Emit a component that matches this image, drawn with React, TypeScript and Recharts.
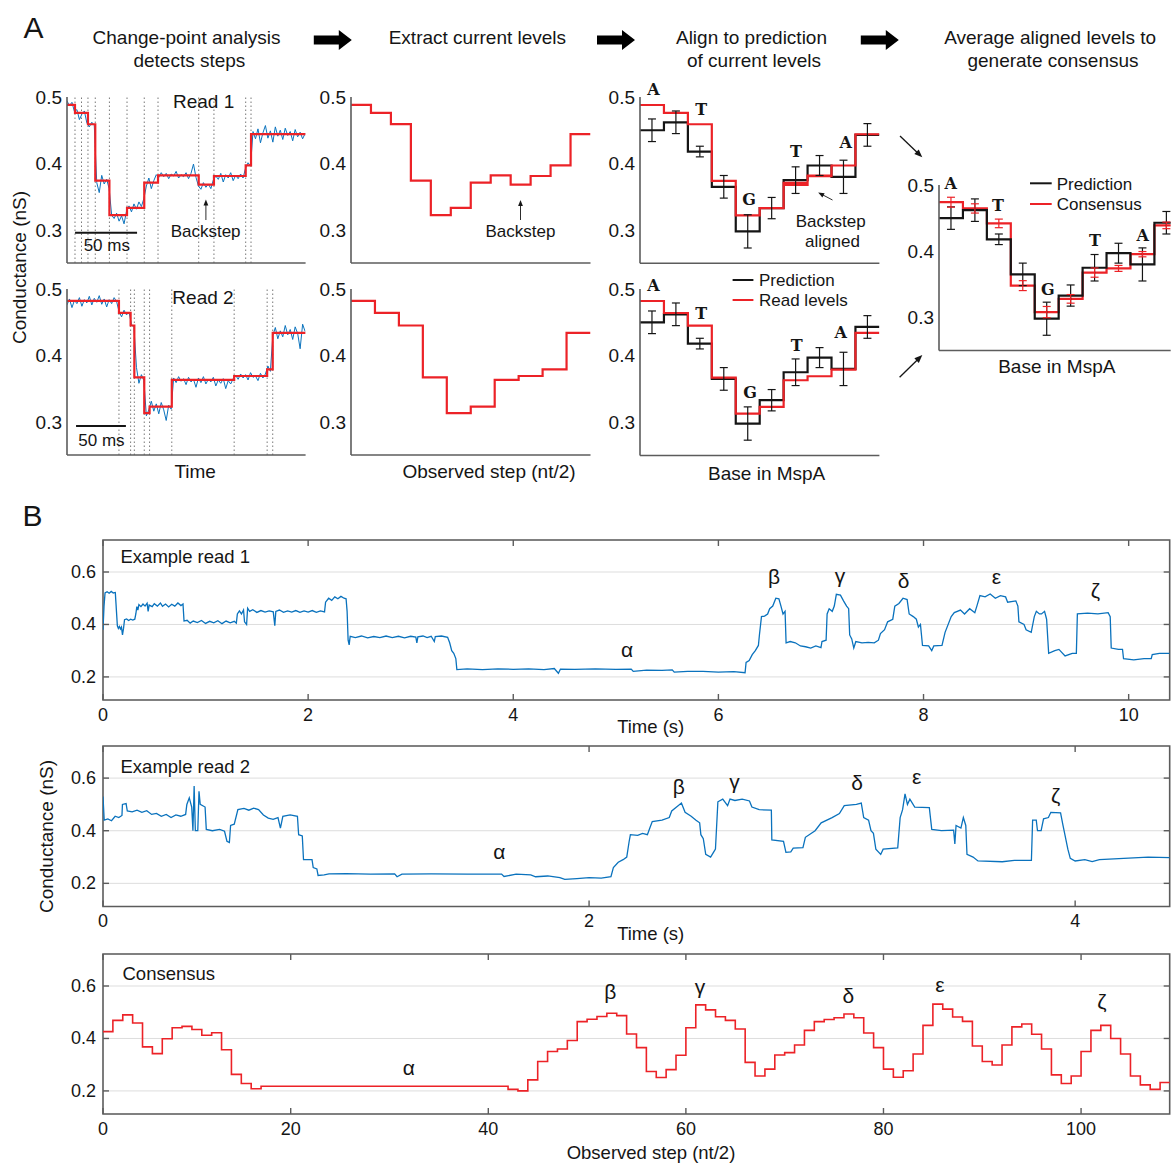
import React from 'react';
import { LineChart, Line, XAxis, YAxis, ReferenceLine, ReferenceArea, ErrorBar, CartesianGrid } from 'recharts';

const FONT = '"Liberation Sans", Arial, Helvetica, sans-serif';
const SLAB = '"DejaVu Serif", "Courier New", serif';
const RED = '#ec2227';
const BLUE = '#0a72bd';
const INK = '#151515';
const AXIS = '#5c5c5c';

// ---------------- Panel A data ----------------
// Read 1 (time in ms from start of the window)
const read1Raw = [0.494,0.487,0.492,0.478,0.481,0.466,0.474,0.479,0.461,0.455,0.462,0.457,0.371,0.356,0.382,0.369,0.376,0.362,0.322,0.317,0.325,0.313,0.321,0.309,0.328,0.336,0.327,0.339,0.331,0.342,0.335,0.347,0.366,0.378,0.362,0.374,0.383,0.379,0.386,0.38,0.385,0.377,0.384,0.381,0.388,0.378,0.383,0.38,0.386,0.377,0.385,0.399,0.379,0.366,0.361,0.371,0.364,0.369,0.362,0.375,0.381,0.376,0.385,0.372,0.383,0.378,0.386,0.374,0.382,0.377,0.384,0.378,0.393,0.401,0.396,0.448,0.437,0.452,0.431,0.446,0.457,0.438,0.449,0.432,0.455,0.441,0.45,0.436,0.453,0.442,0.448,0.434,0.451,0.44,0.447,0.437,0.445];
const read1SampleStep = 2;
const read1Levels = [0.488, 0.476, 0.459, 0.374, 0.322, 0.333, 0.371, 0.382, 0.368, 0.381, 0.397, 0.444];
const read1Starts = [0, 6.45, 16.9, 22.8, 34.2, 48.4, 62.3, 73.4, 106.2, 118.5, 144.1, 148.4];
const read1End = 192.4;
const read1ChangePoints = [6.45, 11.7, 16.9, 22.8, 34.2, 48.4, 62.3, 73.4, 106.2, 118.5, 144.1, 148.4];
const read1ScaleBar = [6.5, 56.5, 0.2955];
const read1Bases = [1, 2, 3, 4, 5, 6, 7, 8, 7, 8, 9, 10];

// Read 2 (time in arbitrary units)
const read2Raw = [0.476,0.485,0.472,0.483,0.478,0.487,0.474,0.484,0.479,0.489,0.476,0.486,0.48,0.49,0.477,0.485,0.473,0.484,0.478,0.487,0.481,0.466,0.458,0.468,0.461,0.465,0.447,0.442,0.382,0.358,0.371,0.362,0.309,0.318,0.331,0.316,0.327,0.312,0.329,0.318,0.302,0.325,0.319,0.366,0.359,0.368,0.361,0.365,0.356,0.367,0.36,0.364,0.352,0.366,0.359,0.368,0.357,0.364,0.36,0.367,0.354,0.363,0.358,0.365,0.35,0.362,0.357,0.365,0.37,0.364,0.372,0.366,0.371,0.363,0.374,0.367,0.369,0.362,0.373,0.366,0.372,0.384,0.376,0.43,0.442,0.425,0.437,0.428,0.445,0.431,0.439,0.424,0.443,0.433,0.41,0.447,0.436];
const read2SampleStep = 2;
const read2Levels = [0.482, 0.464, 0.445, 0.367, 0.313, 0.323, 0.363, 0.369, 0.379, 0.434];
const read2Starts = [0, 41.9, 51.3, 54.3, 62.3, 66.6, 84.5, 134.8, 161.4, 165.9];
const read2End = 192.4;
const read2ChangePoints = [41.9, 51.3, 54.3, 62.3, 66.6, 84.5, 134.8, 161.4, 165.9];
const read2ScaleBar = [7.3, 47.5, 0.2938];
const read2Bases = [1, 2, 3, 4, 5, 6, 7, 8, 9, 10];

// Prediction & consensus per base in MspA
const mspaBases = [1, 2, 3, 4, 5, 6, 7, 8, 9, 10];
const prediction = [0.45, 0.462, 0.418, 0.365, 0.298, 0.333, 0.375, 0.397, 0.38, 0.443];
const predictionErr = [0.017, 0.017, 0.008, 0.017, 0.025, 0.016, 0.02, 0.015, 0.025, 0.017];
const consensusA = [0.474, 0.4646, 0.442, 0.348, 0.308, 0.328, 0.3677, 0.374, 0.3955, 0.439];
const consensusAErr = [0.0075, 0.007, 0.0065, 0.0075, 0.0085, 0.0065, 0.007, 0.0045, 0.004, 0.005];

// ---------------- Panel B data ----------------
const exampleRead1: [number, number][] = [[0,0.38],[0.01,0.47],[0.02,0.52],[0.04,0.525],[0.06,0.519],[0.08,0.526],[0.1,0.52],[0.12,0.522],[0.125,0.49],[0.14,0.395],[0.15,0.385],[0.16,0.392],[0.17,0.383],[0.18,0.39],[0.19,0.36],[0.2,0.385],[0.21,0.418],[0.23,0.421],[0.25,0.415],[0.27,0.42],[0.29,0.417],[0.31,0.42],[0.32,0.44],[0.33,0.468],[0.34,0.455],[0.35,0.476],[0.37,0.468],[0.39,0.478],[0.41,0.47],[0.43,0.481],[0.44,0.45],[0.45,0.474],[0.48,0.468],[0.5,0.479],[0.53,0.47],[0.56,0.482],[0.58,0.469],[0.61,0.478],[0.64,0.467],[0.67,0.477],[0.7,0.47],[0.73,0.482],[0.76,0.472],[0.78,0.478],[0.79,0.413],[0.82,0.416],[0.85,0.405],[0.88,0.413],[0.92,0.407],[0.96,0.415],[1.0,0.404],[1.04,0.412],[1.08,0.406],[1.12,0.414],[1.16,0.403],[1.2,0.413],[1.24,0.406],[1.28,0.412],[1.3,0.405],[1.31,0.44],[1.33,0.452],[1.35,0.44],[1.37,0.455],[1.38,0.41],[1.4,0.4],[1.41,0.462],[1.43,0.45],[1.46,0.456],[1.5,0.446],[1.54,0.453],[1.58,0.447],[1.62,0.452],[1.66,0.448],[1.675,0.395],[1.685,0.45],[1.72,0.455],[1.76,0.446],[1.8,0.452],[1.84,0.447],[1.88,0.453],[1.92,0.446],[1.96,0.452],[2.0,0.447],[2.04,0.453],[2.08,0.446],[2.12,0.452],[2.16,0.448],[2.17,0.485],[2.2,0.5],[2.23,0.492],[2.26,0.505],[2.29,0.498],[2.32,0.507],[2.35,0.5],[2.37,0.498],[2.38,0.45],[2.39,0.34],[2.4,0.322],[2.41,0.355],[2.46,0.35],[2.52,0.356],[2.58,0.349],[2.64,0.354],[2.7,0.35],[2.76,0.356],[2.82,0.35],[2.88,0.355],[2.94,0.349],[3.0,0.355],[3.05,0.352],[3.06,0.33],[3.07,0.353],[3.12,0.356],[3.16,0.35],[3.2,0.355],[3.23,0.335],[3.24,0.354],[3.3,0.356],[3.36,0.351],[3.38,0.33],[3.4,0.3],[3.42,0.29],[3.44,0.27],[3.45,0.228],[3.55,0.231],[3.7,0.228],[3.85,0.231],[4.0,0.229],[4.15,0.231],[4.3,0.228],[4.4,0.232],[4.44,0.214],[4.46,0.23],[4.6,0.229],[4.8,0.231],[5.0,0.229],[5.15,0.23],[5.17,0.221],[5.3,0.226],[5.45,0.225],[5.55,0.227],[5.57,0.218],[5.7,0.221],[5.85,0.221],[6.0,0.218],[6.15,0.22],[6.26,0.216],[6.27,0.255],[6.3,0.262],[6.33,0.285],[6.36,0.3],[6.39,0.32],[6.4,0.36],[6.42,0.43],[6.45,0.432],[6.48,0.44],[6.5,0.46],[6.53,0.47],[6.56,0.5],[6.59,0.498],[6.61,0.47],[6.63,0.44],[6.65,0.45],[6.66,0.33],[6.7,0.335],[6.75,0.33],[6.8,0.318],[6.85,0.315],[6.9,0.31],[6.95,0.318],[7.0,0.312],[7.01,0.335],[7.05,0.34],[7.06,0.44],[7.08,0.46],[7.11,0.45],[7.13,0.47],[7.15,0.515],[7.19,0.512],[7.22,0.49],[7.25,0.47],[7.27,0.46],[7.28,0.36],[7.3,0.345],[7.32,0.31],[7.34,0.335],[7.4,0.33],[7.46,0.332],[7.52,0.33],[7.56,0.34],[7.58,0.365],[7.62,0.38],[7.65,0.41],[7.7,0.42],[7.72,0.47],[7.76,0.48],[7.8,0.5],[7.84,0.495],[7.86,0.44],[7.9,0.43],[7.93,0.42],[7.95,0.39],[7.97,0.4],[7.99,0.32],[8.05,0.318],[8.08,0.3],[8.1,0.318],[8.18,0.32],[8.21,0.37],[8.27,0.43],[8.3,0.445],[8.36,0.455],[8.4,0.44],[8.45,0.46],[8.5,0.445],[8.52,0.47],[8.55,0.51],[8.6,0.505],[8.65,0.516],[8.7,0.5],[8.75,0.51],[8.8,0.505],[8.82,0.485],[8.9,0.49],[8.92,0.47],[8.93,0.41],[8.98,0.4],[9.0,0.38],[9.05,0.37],[9.08,0.43],[9.1,0.45],[9.13,0.44],[9.15,0.44],[9.18,0.45],[9.2,0.42],[9.22,0.29],[9.28,0.3],[9.32,0.305],[9.38,0.28],[9.45,0.29],[9.49,0.29],[9.5,0.44],[9.6,0.443],[9.7,0.44],[9.8,0.445],[9.82,0.43],[9.83,0.31],[9.9,0.305],[9.94,0.305],[9.95,0.27],[10.05,0.265],[10.15,0.27],[10.22,0.27],[10.23,0.285],[10.3,0.29],[10.4,0.29]];

const exampleRead2: [number, number][] = [[0,0.53],[0.005,0.44],[0.02,0.445],[0.035,0.438],[0.05,0.455],[0.065,0.45],[0.078,0.458],[0.08,0.5],[0.095,0.503],[0.1,0.475],[0.12,0.472],[0.14,0.478],[0.16,0.47],[0.18,0.476],[0.2,0.462],[0.22,0.466],[0.24,0.455],[0.26,0.462],[0.28,0.45],[0.3,0.46],[0.32,0.455],[0.34,0.462],[0.345,0.5],[0.355,0.525],[0.365,0.49],[0.37,0.4],[0.375,0.57],[0.38,0.4],[0.39,0.4],[0.395,0.55],[0.4,0.5],[0.42,0.49],[0.425,0.405],[0.45,0.4],[0.48,0.405],[0.5,0.398],[0.51,0.36],[0.52,0.355],[0.525,0.42],[0.54,0.425],[0.555,0.48],[0.58,0.485],[0.6,0.478],[0.62,0.486],[0.64,0.48],[0.66,0.46],[0.68,0.448],[0.7,0.443],[0.72,0.45],[0.73,0.41],[0.74,0.455],[0.77,0.46],[0.8,0.455],[0.805,0.385],[0.82,0.38],[0.825,0.29],[0.86,0.29],[0.865,0.26],[0.88,0.255],[0.885,0.23],[0.91,0.232],[0.93,0.236],[1.0,0.237],[1.1,0.235],[1.2,0.236],[1.21,0.225],[1.23,0.235],[1.35,0.236],[1.5,0.235],[1.64,0.235],[1.65,0.226],[1.7,0.235],[1.76,0.232],[1.78,0.225],[1.83,0.228],[1.88,0.222],[1.9,0.215],[1.95,0.218],[2.0,0.222],[2.05,0.22],[2.09,0.225],[2.1,0.26],[2.12,0.28],[2.14,0.29],[2.155,0.3],[2.165,0.36],[2.17,0.385],[2.2,0.382],[2.22,0.39],[2.24,0.385],[2.25,0.41],[2.26,0.435],[2.3,0.44],[2.33,0.45],[2.34,0.475],[2.36,0.49],[2.38,0.505],[2.395,0.47],[2.42,0.455],[2.44,0.44],[2.455,0.43],[2.46,0.385],[2.47,0.37],[2.48,0.31],[2.5,0.3],[2.51,0.315],[2.52,0.33],[2.53,0.51],[2.55,0.52],[2.57,0.495],[2.58,0.52],[2.6,0.515],[2.63,0.52],[2.66,0.513],[2.67,0.49],[2.7,0.48],[2.75,0.478],[2.752,0.365],[2.8,0.36],[2.81,0.318],[2.83,0.32],[2.84,0.334],[2.88,0.336],[2.89,0.375],[2.93,0.4],[2.955,0.43],[3.0,0.45],[3.03,0.465],[3.05,0.495],[3.1,0.5],[3.12,0.505],[3.13,0.45],[3.15,0.44],[3.16,0.4],[3.17,0.39],[3.18,0.33],[3.2,0.31],[3.21,0.33],[3.27,0.335],[3.28,0.45],[3.29,0.48],[3.3,0.54],[3.31,0.5],[3.32,0.52],[3.34,0.49],[3.4,0.488],[3.41,0.405],[3.45,0.4],[3.5,0.402],[3.505,0.35],[3.51,0.42],[3.53,0.41],[3.54,0.45],[3.55,0.42],[3.555,0.31],[3.58,0.3],[3.6,0.285],[3.7,0.282],[3.75,0.287],[3.82,0.287],[3.825,0.44],[3.84,0.44],[3.845,0.4],[3.86,0.4],[3.87,0.445],[3.89,0.45],[3.9,0.47],[3.94,0.468],[3.95,0.42],[3.97,0.33],[3.98,0.295],[4.0,0.285],[4.04,0.29],[4.07,0.283],[4.1,0.29],[4.2,0.295],[4.3,0.3],[4.39,0.298]];

const consensusLevels = [0.426,0.469,0.49,0.459,0.368,0.342,0.399,0.441,0.446,0.434,0.412,0.422,0.357,0.263,0.228,0.208,
  0.218,0.218,0.218,0.218,0.218,0.218,0.218,0.218,0.218,0.218,0.218,0.218,0.218,0.218,0.218,0.218,0.218,0.218,0.218,0.218,0.218,0.218,0.218,0.218,0.218,
  0.206,0.2,0.242,0.312,0.35,0.36,0.392,
  0.464,0.473,0.484,0.496,0.487,0.417,0.365,0.274,0.251,0.281,0.336,0.441,
  0.528,0.509,0.483,0.469,0.436,0.309,0.257,0.283,0.337,0.346,0.375,0.431,
  0.464,0.472,0.479,0.493,0.479,0.421,0.365,0.283,0.252,0.277,0.341,0.45,
  0.531,0.512,0.482,0.465,0.371,0.312,0.299,0.375,0.444,0.455,0.416,0.36,
  0.261,0.228,0.257,0.35,0.431,0.45,0.4,0.341,0.257,0.223,0.206,0.232];
const consensusFirstStep = 1;

const b1Ticks = [0, 2, 4, 6, 8, 10];
const b1TickLabels = ['0', '2', '4', '6', '8', '10'];
const b2Ticks = [0, 2, 4];
const b2TickLabels = ['0', '2', '4'];
const b3Ticks = [1, 20, 40, 60, 80, 100];
const b3TickLabels = ['0', '20', '40', '60', '80', '100'];
const bYTicks = [0.2, 0.4, 0.6];
const aYTicks = [0.3, 0.4, 0.5];

const greekLabels = ['α', 'β', 'γ', 'δ', 'ε', 'ζ'];

// ---------------- helpers ----------------
type P = { x: number; y: number | null; err?: number };
const stairs = (starts: number[], levels: number[], end: number): P[] =>
  levels.flatMap((v, i) => [{ x: starts[i], y: v }, { x: i + 1 < levels.length ? starts[i + 1] : end, y: v }]);
const indexStarts = (n: number, first = 0) => Array.from({ length: n }, (_, i) => first + i);
const baseStairs = (bases: number[], levels: number[]): P[] => {
  const pts: P[] = [];
  levels.forEach((v, i) => {
    if (i > 0 && bases[i] <= bases[i - 1]) pts.push({ x: bases[i] - 0.5, y: null });
    pts.push({ x: bases[i] - 0.5, y: v });
    pts.push({ x: bases[i] + 0.5, y: v });
  });
  return pts;
};
const bars = (bases: number[], levels: number[], errs: number[]): P[] => levels.map((v, i) => ({ x: bases[i], y: v, err: errs[i] }));
const uniform = (vals: number[], dt: number): P[] => vals.map((v, i) => ({ x: i * dt, y: v }));
const pairs = (arr: [number, number][]): P[] => arr.map(([x, y]) => ({ x, y }));

type Box = { x0: number; y0: number; x1: number; y1: number };
const BOX_A1T: Box = { x0: 67.4, y0: 96.5, x1: 306, y1: 262.5 };
const BOX_A1B: Box = { x0: 67.4, y0: 289, x1: 306, y1: 455 };
const BOX_A2T: Box = { x0: 350.5, y0: 96.5, x1: 590, y1: 262.5 };
const BOX_A2B: Box = { x0: 350.5, y0: 289, x1: 590, y1: 455 };
const BOX_A3T: Box = { x0: 640.3, y0: 96.5, x1: 879.7, y1: 262.8 };
const BOX_A3B: Box = { x0: 640.3, y0: 288.5, x1: 879.7, y1: 455 };
const BOX_A4: Box = { x0: 939.3, y0: 185, x1: 1171, y1: 350.5 };
const BOX_B1: Box = { x0: 103.3, y0: 539.5, x1: 1170, y1: 699.5 };
const BOX_B2: Box = { x0: 103.3, y0: 746, x1: 1170, y1: 906.5 };
const BOX_B3: Box = { x0: 103.3, y0: 954.3, x1: 1170, y1: 1114.3 };
const A_Y_DOMAIN: [number, number] = [0.25, 0.5];
const B_Y_DOMAIN: [number, number] = [0.112, 0.722];

function PanelA({ box, xDomain, children }: { box: Box; xDomain: [number, number]; children: React.ReactNode }) {
  const YW = 60, XH = 4, MT = 16, MR = 2;
  return (
    <div style={{ position: 'absolute', left: box.x0 - YW, top: box.y0 - MT }}>
      <LineChart width={YW + box.x1 - box.x0 + MR} height={MT + box.y1 - box.y0 + XH} margin={{ top: MT, right: MR, bottom: 0, left: 0 }}>
        <XAxis type="number" dataKey="x" domain={xDomain} allowDataOverflow tick={false} tickLine={false} axisLine={{ stroke: AXIS, strokeWidth: 1.6 }} height={XH} />
        <YAxis type="number" domain={A_Y_DOMAIN} allowDataOverflow ticks={aYTicks} interval={0} width={YW} tickLine={false} tickSize={0} tickMargin={5}
          axisLine={{ stroke: AXIS, strokeWidth: 1.6 }} tick={{ fontSize: 19, fill: INK, fontFamily: FONT }} />
        {children}
      </LineChart>
    </div>
  );
}

function PanelB({ box, xDomain, xTicks, xLabels, children }: { box: Box; xDomain: [number, number]; xTicks: number[]; xLabels: string[]; children: React.ReactNode }) {
  const YW = 40, XH = 30, MT = 4, MR = 4;
  const plotW = box.x1 - box.x0, plotH = box.y1 - box.y0;
  const xTick = (p: any) => {
    const { x, y, payload } = p;
    const i = xTicks.indexOf(payload.value);
    return (
      <g>
        <line x1={x} y1={y} x2={x} y2={y - 6} stroke={AXIS} strokeWidth={1.4} />
        <line x1={x} y1={y - plotH} x2={x} y2={y - plotH + 6} stroke={AXIS} strokeWidth={1.4} />
        <text x={x} y={y + 15} textAnchor="middle" dominantBaseline="central" fontSize={18} fill={INK} fontFamily={FONT}>{xLabels[i]}</text>
      </g>
    );
  };
  const yTick = (p: any) => {
    const { x, y, payload } = p;
    return (
      <g>
        <line x1={x} y1={y} x2={x + 6} y2={y} stroke={AXIS} strokeWidth={1.4} />
        <line x1={x + plotW} y1={y} x2={x + plotW - 6} y2={y} stroke={AXIS} strokeWidth={1.4} />
        <text x={x - 7} y={y} textAnchor="end" dominantBaseline="central" fontSize={18} fill={INK} fontFamily={FONT}>{Number(payload.value).toFixed(1)}</text>
      </g>
    );
  };
  return (
    <div style={{ position: 'absolute', left: box.x0 - YW, top: box.y0 - MT }}>
      <LineChart width={YW + plotW + MR} height={MT + plotH + XH} margin={{ top: MT, right: MR, bottom: 0, left: 0 }}>
        <CartesianGrid vertical={false} stroke="#dddddd" strokeWidth={1} />
        <XAxis type="number" dataKey="x" domain={xDomain} allowDataOverflow ticks={xTicks} interval={0} tickSize={0} tickMargin={0} tickLine={false} axisLine={false} height={XH} tick={xTick} />
        <YAxis type="number" domain={B_Y_DOMAIN} allowDataOverflow ticks={bYTicks} interval={0} tickSize={0} tickMargin={0} tickLine={false} axisLine={false} width={YW} tick={yTick} />
        {children}
        <ReferenceArea x1={xDomain[0]} x2={xDomain[1]} y1={B_Y_DOMAIN[0]} y2={B_Y_DOMAIN[1]} fill="none" fillOpacity={0} stroke={AXIS} strokeWidth={1.6} ifOverflow="visible" />
      </LineChart>
    </div>
  );
}

const T = ({ x, y, s = 19, a = 'middle', w, f = FONT, rot, children }: any) => (
  <text x={x} y={y} fontSize={s} textAnchor={a} dominantBaseline="central" fontFamily={f} fontWeight={w} fill={INK}
    transform={rot ? `rotate(-90 ${x} ${y})` : undefined}>{children}</text>
);

const Arrow = ({ x1, y1, x2, y2, head = 6, w = 1 }: any) => {
  const a = Math.atan2(y2 - y1, x2 - x1);
  const hx = head * Math.cos(a), hy = head * Math.sin(a);
  const px = head * 0.4 * -Math.sin(a), py = head * 0.4 * Math.cos(a);
  return (
    <g>
      <line x1={x1} y1={y1} x2={x2 - hx * 0.7} y2={y2 - hy * 0.7} stroke={INK} strokeWidth={w} />
      <polygon points={`${x2},${y2} ${x2 - hx + px},${y2 - hy + py} ${x2 - hx - px},${y2 - hy - py}`} fill={INK} />
    </g>
  );
};

const BlockArrow = ({ x0 }: { x0: number }) => (
  <polygon fill="#000" points={`${x0},35.5 ${x0 + 25},35.5 ${x0 + 25},30 ${x0 + 38},40 ${x0 + 25},50 ${x0 + 25},44.5 ${x0},44.5`} />
);

const greekB1 = [[627, 649], [774, 576], [840, 575], [903.5, 580], [996.5, 576], [1095.5, 590]];
const greekB2 = [[499.4, 851], [678.8, 786], [734.5, 781], [857, 782], [916.6, 776], [1055.7, 795]];
const greekB3 = [[408.7, 1067], [610.2, 991], [699.9, 986], [848.4, 995], [940, 984], [1102, 1001]];
const baseLetters = ['A', 'T', 'G', 'T', 'A'];
const lettersA3T = [[653.5, 89.2], [701.2, 109.2], [749, 199.2], [796, 151.7], [845.7, 142.5]];
const lettersA3B = [[653.5, 285.3], [701.2, 313.2], [750, 392.5], [796.6, 345], [840.6, 332.5]];
const lettersA4 = [[950.8, 183.8], [998, 205.5], [1047.8, 289.2], [1095, 240.5], [1142.8, 235]];

function Overlay() {
  return (
    <svg width={1171} height={1163} style={{ position: 'absolute', left: 0, top: 0, pointerEvents: 'none' }}>
      <T x={33.5} y={27.5} s={30}>A</T>
      <T x={32.5} y={515} s={30}>B</T>
      <T x={186.6} y={37}>Change-point analysis</T>
      <T x={189.4} y={60}>detects steps</T>
      <T x={477.4} y={37}>Extract current levels</T>
      <T x={751.5} y={37}>Align to prediction</T>
      <T x={754} y={60}>of current levels</T>
      <T x={1050.2} y={37}>Average aligned levels to</T>
      <T x={1053} y={60}>generate consensus</T>
      <BlockArrow x0={313.8} />
      <BlockArrow x0={597} />
      <BlockArrow x0={860.8} />

      <T x={203.6} y={101.7}>Read 1</T>
      <T x={203} y={297}>Read 2</T>
      <T x={205.6} y={231} s={17}>Backstep</T>
      <Arrow x1={205.9} y1={220} x2={205.9} y2={199.5} head={6} w={0.9} />
      <T x={520.5} y={231.7} s={17}>Backstep</T>
      <Arrow x1={520.5} y1={220} x2={520.5} y2={200} head={6} w={0.9} />
      <T x={106.8} y={245} s={17}>50 ms</T>
      <T x={101.4} y={440.7} s={17}>50 ms</T>
      <T x={19} y={267.5} rot>Conductance (nS)</T>
      <T x={195.2} y={471.7}>Time</T>
      <T x={489} y={471.7}>Observed step (nt/2)</T>
      <T x={766.7} y={473.3}>Base in MspA</T>
      <T x={1056.8} y={366.7}>Base in MspA</T>

      {lettersA3T.map(([x, y], i) => <T key={'a' + i} x={x} y={y} s={16} w="bold" f={SLAB}>{baseLetters[i]}</T>)}
      {lettersA3B.map(([x, y], i) => <T key={'b' + i} x={x} y={y} s={16} w="bold" f={SLAB}>{baseLetters[i]}</T>)}
      {lettersA4.map(([x, y], i) => <T key={'c' + i} x={x} y={y} s={16} w="bold" f={SLAB}>{baseLetters[i]}</T>)}

      <T x={830.7} y={221.7} s={17}>Backstep</T>
      <T x={832.5} y={241.7} s={17}>aligned</T>
      <Arrow x1={832.5} y1={200} x2={818.2} y2={192.5} head={6} w={0.9} />

      <line x1={732.6} y1={280} x2={753.4} y2={280} stroke={INK} strokeWidth={2} />
      <T x={759} y={280.3} s={17} a="start">Prediction</T>
      <line x1={732.6} y1={300} x2={753.4} y2={300} stroke={RED} strokeWidth={2} />
      <T x={759} y={300.5} s={17} a="start">Read levels</T>

      <line x1={1030} y1={183.3} x2={1051.7} y2={183.3} stroke={INK} strokeWidth={2} />
      <T x={1056.7} y={184} s={17} a="start">Prediction</T>
      <line x1={1030} y1={204} x2={1051.7} y2={204} stroke={RED} strokeWidth={2} />
      <T x={1056.7} y={204} s={17} a="start">Consensus</T>

      <Arrow x1={900} y1={136} x2={922.3} y2={157.3} head={8} w={1.3} />
      <Arrow x1={899.6} y1={377.3} x2={922.3} y2={355} head={8} w={1.3} />

      <T x={120.5} y={556.7} s={18.5} a="start">Example read 1</T>
      <T x={120.5} y={766.3} s={18.5} a="start">Example read 2</T>
      <T x={122.5} y={973.3} s={18.5} a="start">Consensus</T>
      <T x={650.7} y={726.7} s={18.5}>Time (s)</T>
      <T x={650.7} y={933.3} s={18.5}>Time (s)</T>
      <T x={651} y={1152.5} s={18.5}>Observed step (nt/2)</T>
      <T x={46} y={836.5} s={19} rot>Conductance (nS)</T>

      {greekB1.map(([x, y], i) => <T key={'g1' + i} x={x} y={y} s={21}>{greekLabels[i]}</T>)}
      {greekB2.map(([x, y], i) => <T key={'g2' + i} x={x} y={y} s={21}>{greekLabels[i]}</T>)}
      {greekB3.map(([x, y], i) => <T key={'g3' + i} x={x} y={y} s={21}>{greekLabels[i]}</T>)}
    </svg>
  );
}

export default function App() {
  const read1Trace = uniform(read1Raw, read1SampleStep);
  const read2Trace = uniform(read2Raw, read2SampleStep);
  const read1Fit = stairs(read1Starts, read1Levels, read1End);
  const read2Fit = stairs(read2Starts, read2Levels, read2End);
  const read1Extract = stairs(indexStarts(read1Levels.length), read1Levels, read1Levels.length);
  const read2Extract = stairs(indexStarts(read2Levels.length), read2Levels, read2Levels.length);
  const predStairs = baseStairs(mspaBases, prediction);
  const predBars = bars(mspaBases, prediction, predictionErr);
  const read1Aligned = baseStairs(read1Bases, read1Levels);
  const read2Aligned = baseStairs(read2Bases, read2Levels);
  const consStairs = baseStairs(mspaBases, consensusA);
  const consBars = bars(mspaBases, consensusA, consensusAErr);
  const consensusStepsB = stairs(indexStarts(consensusLevels.length, consensusFirstStep), consensusLevels, consensusFirstStep + consensusLevels.length);
  const bRead1 = pairs(exampleRead1);
  const bRead2 = pairs(exampleRead2);

  const lineCommon = { dataKey: 'y', dot: false, activeDot: false, isAnimationActive: false, type: 'linear' as const };

  return (
    <div style={{ position: 'absolute', left: 0, top: 0, width: 1171, height: 1163, background: '#fff', overflow: 'hidden', fontFamily: FONT }}>
      {/* A1 read 1 */}
      <PanelA box={BOX_A1T} xDomain={[0, read1End]}>
        {read1ChangePoints.map((t) => <ReferenceLine key={t} x={t} stroke="#777" strokeDasharray="1.5 2.5" strokeWidth={1} />)}
        <Line {...lineCommon} data={read1Trace} stroke={BLUE} strokeWidth={1} />
        <Line {...lineCommon} data={read1Fit} stroke={RED} strokeWidth={2.2} />
        <ReferenceLine segment={[{ x: read1ScaleBar[0], y: read1ScaleBar[2] }, { x: read1ScaleBar[1], y: read1ScaleBar[2] }]} stroke={INK} strokeWidth={2} />
      </PanelA>
      {/* A1 read 2 */}
      <PanelA box={BOX_A1B} xDomain={[0, read2End]}>
        {read2ChangePoints.map((t) => <ReferenceLine key={t} x={t} stroke="#777" strokeDasharray="1.5 2.5" strokeWidth={1} />)}
        <Line {...lineCommon} data={read2Trace} stroke={BLUE} strokeWidth={1} />
        <Line {...lineCommon} data={read2Fit} stroke={RED} strokeWidth={2.2} />
        <ReferenceLine segment={[{ x: read2ScaleBar[0], y: read2ScaleBar[2] }, { x: read2ScaleBar[1], y: read2ScaleBar[2] }]} stroke={INK} strokeWidth={2} />
      </PanelA>
      {/* A2 */}
      <PanelA box={BOX_A2T} xDomain={[0, read1Levels.length]}>
        <Line {...lineCommon} data={read1Extract} stroke={RED} strokeWidth={2.2} />
      </PanelA>
      <PanelA box={BOX_A2B} xDomain={[0, read2Levels.length]}>
        <Line {...lineCommon} data={read2Extract} stroke={RED} strokeWidth={2.2} />
      </PanelA>
      {/* A3 */}
      <PanelA box={BOX_A3T} xDomain={[0.5, 10.5]}>
        <Line {...lineCommon} data={predStairs} stroke={INK} strokeWidth={2.2} />
        <Line {...lineCommon} data={read1Aligned} stroke={RED} strokeWidth={2.2} />
        <Line {...lineCommon} data={predBars} stroke="none" strokeWidth={0}>
          <ErrorBar dataKey="err" direction="y" width={4} stroke={INK} strokeWidth={1.2} isAnimationActive={false} />
        </Line>
      </PanelA>
      <PanelA box={BOX_A3B} xDomain={[0.5, 10.5]}>
        <Line {...lineCommon} data={predStairs} stroke={INK} strokeWidth={2.2} />
        <Line {...lineCommon} data={read2Aligned} stroke={RED} strokeWidth={2.2} />
        <Line {...lineCommon} data={predBars} stroke="none" strokeWidth={0}>
          <ErrorBar dataKey="err" direction="y" width={4} stroke={INK} strokeWidth={1.2} isAnimationActive={false} />
        </Line>
      </PanelA>
      {/* A4 */}
      <PanelA box={BOX_A4} xDomain={[0.5, 10.18]}>
        <Line {...lineCommon} data={consStairs} stroke={RED} strokeWidth={2.2} />
        <Line {...lineCommon} data={predStairs} stroke={INK} strokeWidth={2.2} />
        <Line {...lineCommon} data={predBars} stroke="none" strokeWidth={0}>
          <ErrorBar dataKey="err" direction="y" width={4} stroke={INK} strokeWidth={1.2} isAnimationActive={false} />
        </Line>
        <Line {...lineCommon} data={consBars} stroke="none" strokeWidth={0}>
          <ErrorBar dataKey="err" direction="y" width={4} stroke={RED} strokeWidth={1.2} isAnimationActive={false} />
        </Line>
      </PanelA>

      {/* B */}
      <PanelB box={BOX_B1} xDomain={[0, 10.4]} xTicks={b1Ticks} xLabels={b1TickLabels}>
        <Line {...lineCommon} data={bRead1} stroke={BLUE} strokeWidth={1.3} />
      </PanelB>
      <PanelB box={BOX_B2} xDomain={[0, 4.389]} xTicks={b2Ticks} xLabels={b2TickLabels}>
        <Line {...lineCommon} data={bRead2} stroke={BLUE} strokeWidth={1.3} />
      </PanelB>
      <PanelB box={BOX_B3} xDomain={[1, 108.97]} xTicks={b3Ticks} xLabels={b3TickLabels}>
        <Line {...lineCommon} data={consensusStepsB} stroke={RED} strokeWidth={1.6} />
      </PanelB>

      <Overlay />
    </div>
  );
}
